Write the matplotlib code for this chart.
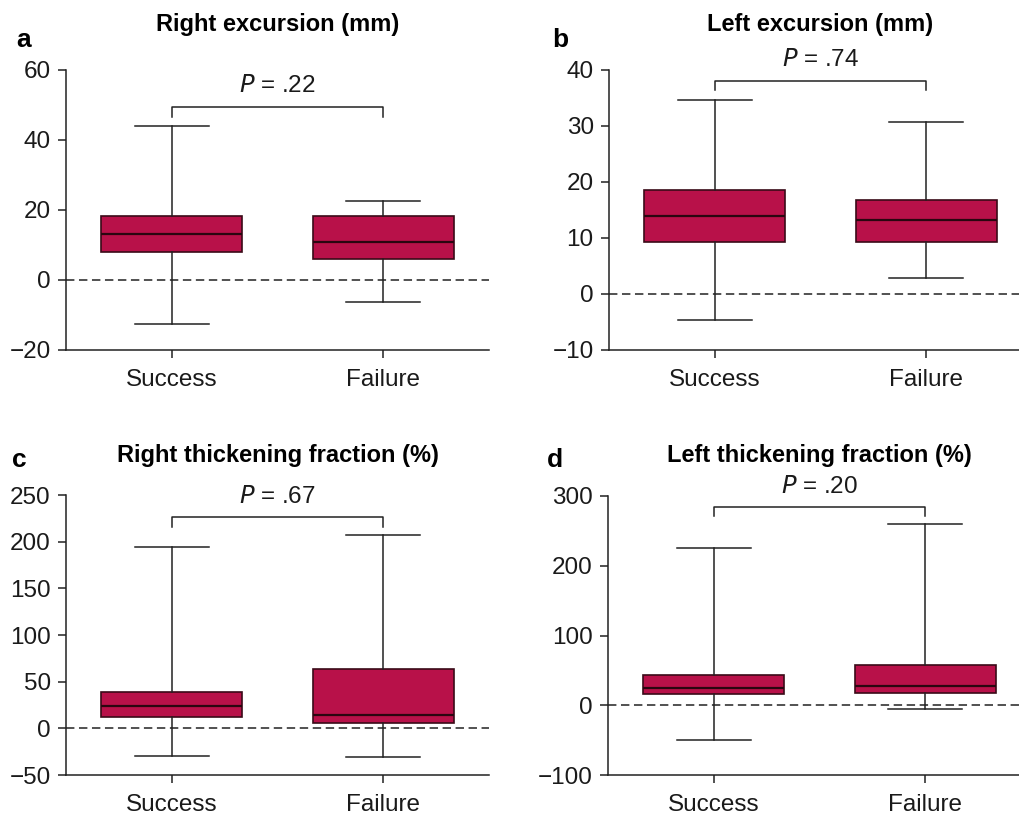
import matplotlib.pyplot as plt

plt.rcParams["font.family"] = ["Liberation Sans", "DejaVu Sans"]

# Data (box plot summary stats)
groups = ["Success", "Failure"]
titles = [
    "Right excursion (mm)",
    "Left excursion (mm)",
    "Right thickening fraction (%)",
    "Left thickening fraction (%)",
]
letters = ["a", "b", "c", "d"]
p_values = ["P = .22", "P = .74", "P = .67", "P = .20"]

whislo = [[-12.6, -6.3], [-4.6, 2.9], [-30, -31], [-50, -5]]
q1 = [[7.9, 6.0], [9.2, 9.2], [12, 6], [16, 17]]
med = [[13.1, 10.8], [13.9, 13.3], [24, 14], [25, 28]]
q3 = [[18.3, 18.3], [18.6, 16.7], [39, 64], [43, 57]]
whishi = [[43.9, 22.5], [34.6, 30.8], [194, 207], [226, 260]]

ylims = [(-20, 60), (-10, 40), (-50, 250), (-100, 300)]
yticks = [
    [-20, 0, 20, 40, 60],
    [-10, 0, 10, 20, 30, 40],
    [-50, 0, 50, 100, 150, 200, 250],
    [-100, 0, 100, 200, 300],
]
# bracket top, bracket arm bottom, p-text y (data units)
bracket_top = [49.5, 38.1, 226, 284]
bracket_low = [46.7, 36.4, 216, 271.5]
p_text_y = [55.4, 41.8, 248, 313]

box_color = "#b81149"

W, H = 1019, 817
fig = plt.figure(figsize=(W / 100, H / 100), dpi=100)

# axes positions in pixels: left, top, bottom
pos = [(66, 70, 350), (609, 70, 350), (66, 495, 775), (608, 496, 775)]
title_y = [25, 25, 455, 455]
letter_xy = [(16, 40), (552, 40), (12, 460), (547, 460)]

for i in range(4):
    left, top, bottom = pos[i]
    ax = fig.add_axes([left / W, (H - bottom) / H, 423 / W, (bottom - top) / H])

    stats = []
    for j, g in enumerate(groups):
        stats.append(
            dict(
                label=g,
                whislo=whislo[i][j],
                q1=q1[i][j],
                med=med[i][j],
                q3=q3[i][j],
                whishi=whishi[i][j],
                fliers=[],
            )
        )
    ax.bxp(
        stats,
        positions=[0, 1],
        widths=0.665,
        capwidths=0.35,
        patch_artist=True,
        showfliers=False,
        boxprops=dict(facecolor=box_color, edgecolor="#3a0a18", linewidth=1.2),
        medianprops=dict(color="#2a0610", linewidth=1.6),
        whiskerprops=dict(color="#222222", linewidth=1.1),
        capprops=dict(color="#222222", linewidth=1.1),
        zorder=3,
    )
    ax.axhline(0, color="#222222", linewidth=1.1, dashes=(5.5, 3), zorder=2)

    ax.set_xlim(-0.5, 1.5)
    ax.set_ylim(*ylims[i])
    ax.set_yticks(yticks[i])
    ax.set_yticklabels([str(t).replace("-", "\u2212") for t in yticks[i]])
    ax.set_xticks([0, 1])
    ax.set_xticklabels(groups)

    for s in ["top", "right"]:
        ax.spines[s].set_visible(False)
    for s in ["left", "bottom"]:
        ax.spines[s].set_linewidth(1.1)
        ax.spines[s].set_color("#222222")
    ax.tick_params(axis="both", length=6, width=1.1, color="#222222",
                   labelsize=17.5, labelcolor="#1a1a1a")
    ax.tick_params(axis="y", pad=5)
    ax.tick_params(axis="x", pad=8)

    # significance bracket
    ax.plot([0, 0, 1, 1],
            [bracket_low[i], bracket_top[i], bracket_top[i], bracket_low[i]],
            color="#222222", linewidth=1.1, clip_on=False)
    pv = p_values[i].split(" = ")
    ax.text(0.5, p_text_y[i], "$\\it{P}$ = " + pv[1], ha="center", va="center",
            fontsize=17.5, color="#1a1a1a", clip_on=False)

    fig.text((left + 211.5) / W, 1 - title_y[i] / H, titles[i], ha="center",
             va="center", fontsize=17, fontweight="bold")
    lx, ly = letter_xy[i]
    fig.text(lx / W, 1 - ly / H, letters[i], ha="left", va="center",
             fontsize=19, fontweight="bold")

fig.savefig("out.png", dpi=100)
